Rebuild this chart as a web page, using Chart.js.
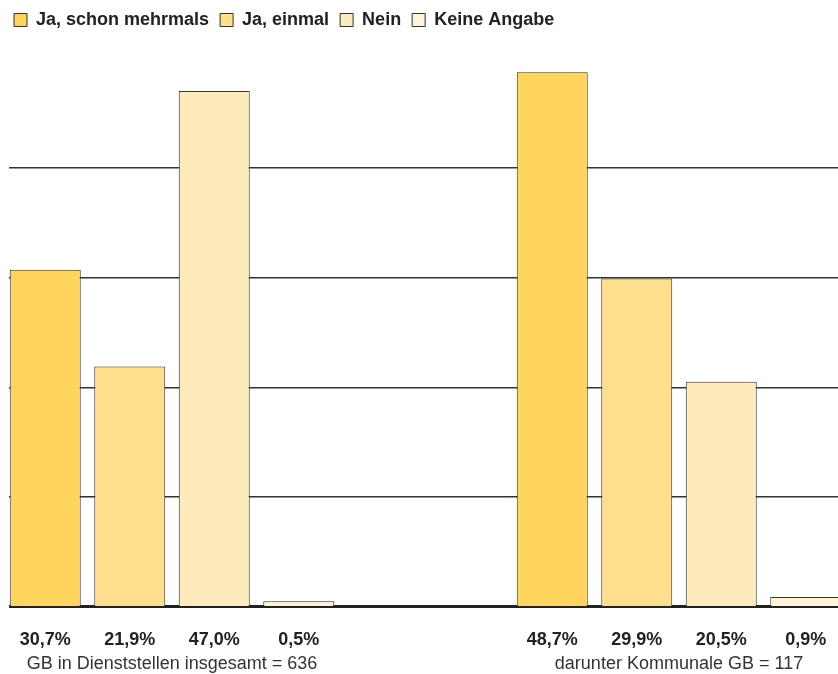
<!DOCTYPE html>
<html>
<head>
<meta charset="utf-8">
<script src="https://cdn.jsdelivr.net/npm/chart.js@4"></script>
<style>
  html, body { margin: 0; padding: 0; background: #fff; overflow: hidden; }
  #chart { display: block; clip-path: inset(0 0 0 9px); }
</style>
</head>
<body>
<canvas id="chart" width="860" height="674"></canvas>
<script>
// Daten
const seriesNames = ["Ja, schon mehrmals", "Ja, einmal", "Nein", "Keine Angabe"];
const groupLabels = ["GB in Dienststellen insgesamt = 636", "darunter Kommunale GB = 117"];
const valuesAll = [30.7, 21.9, 47.0, 0.5];
const valuesKommunal = [48.7, 29.9, 20.5, 0.9];
const colors = ["#ffd55c", "#ffdf8c", "#ffeabb", "#fff3d8"];
const yTicks = [0, 10, 20, 30, 40, 50];

// Slots: 4 Balken, 2 leere Plätze, 4 Balken
const gap = 2;
const slotCount = seriesNames.length * 2 + gap;
const groupStart = [0, seriesNames.length + gap];

function fmt(v) {
  return v.toFixed(1).replace(".", ",") + "%";
}

// leere erste Zeile schiebt die Prozentwerte nach unten
const tickLabels = new Array(slotCount).fill("");
valuesAll.forEach((v, i) => { tickLabels[groupStart[0] + i] = ["", fmt(v)]; });
valuesKommunal.forEach((v, i) => { tickLabels[groupStart[1] + i] = ["", fmt(v)]; });

const datasets = seriesNames.map((name, k) => {
  const data = new Array(slotCount).fill(null);
  data[groupStart[0] + k] = valuesAll[k];
  data[groupStart[1] + k] = valuesKommunal[k];
  return {
    label: name,
    data: data,
    backgroundColor: colors[k],
    borderColor: "#333",
    borderWidth: 1,
    grouped: false,
    barPercentage: 0.84,
    categoryPercentage: 1
  };
});

// Abstand zwischen Legende und Diagramm
const legendGap = {
  id: "legendGap",
  beforeInit(chart) {
    const fit = chart.legend.fit;
    chart.legend.fit = function () {
      fit.bind(chart.legend)();
      this.height += 19;
    };
  }
};

// Gruppenbeschriftung unter den Prozentwerten
const groupLabelPlugin = {
  id: "groupLabels",
  afterDraw(chart) {
    const ctx = chart.ctx;
    const x = chart.scales.x;
    ctx.save();
    ctx.font = "18px 'Liberation Sans', Arial, sans-serif";
    ctx.fillStyle = "#333";
    ctx.textAlign = "center";
    ctx.textBaseline = "alphabetic";
    groupLabels.forEach((label, g) => {
      const a = x.getPixelForValue(groupStart[g]);
      const b = x.getPixelForValue(groupStart[g] + seriesNames.length - 1);
      ctx.fillText(label, (a + b) / 2, chart.chartArea.bottom + 62);
    });
    ctx.restore();
  }
};

new Chart(document.getElementById("chart"), {
  type: "bar",
  data: { labels: tickLabels, datasets: datasets },
  options: {
    responsive: false,
    animation: false,
    layout: { padding: { left: 3, right: 12, top: 0, bottom: 22 } },
    plugins: {
      legend: {
        position: "top",
        align: "start",
        labels: {
          boxWidth: 13,
          boxHeight: 13,
          padding: 11,
          color: "#222",
          font: { family: "'Liberation Sans', Arial, sans-serif", size: 18, weight: "bold" }
        }
      },
      tooltip: { enabled: false }
    },
    scales: {
      x: {
        offset: true,
        grid: { display: false, drawTicks: false },
        border: { display: true, color: "#222", width: 3 },
        ticks: {
          autoSkip: false,
          maxRotation: 0,
          padding: 1,
          color: "#222",
          font: { family: "'Liberation Sans', Arial, sans-serif", size: 18, weight: "bold" }
        }
      },
      y: {
        min: yTicks[0],
        max: yTicks[yTicks.length - 1],
        afterBuildTicks(scale) { scale.ticks = yTicks.map(v => ({ value: v })); },
        ticks: { display: false },
        border: { display: false },
        grid: {
          z: -1,
          drawTicks: false,
          color: c => (c.tick.value === 0 || c.tick.value === 50) ? "rgba(0,0,0,0)" : "#333",
          lineWidth: 1.5
        }
      }
    }
  },
  plugins: [legendGap, groupLabelPlugin]
});
</script>
</body>
</html>
